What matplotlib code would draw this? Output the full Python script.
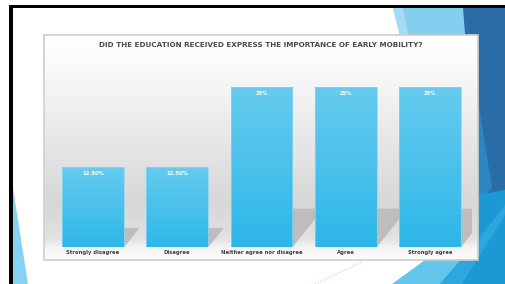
import numpy as np
import matplotlib
matplotlib.use("Agg")
import matplotlib.pyplot as plt
from matplotlib.patches import Polygon, Rectangle
from matplotlib.colors import to_rgb

# data
categories = ["Strongly disagree", "Disagree", "Neither agree nor disagree", "Agree", "Strongly agree"]
values = [12.5, 12.5, 25, 25, 25]
value_labels = ["12.50%", "12.50%", "25%", "25%", "25%"]
title = "DID THE EDUCATION RECEIVED EXPRESS THE IMPORTANCE OF EARLY MOBILITY?"

W, H = 505, 284
fig = plt.figure(figsize=(W / 100, H / 100), dpi=100)

# slide background, drawn in pixel coords (y down)
bg = fig.add_axes([0, 0, 1, 1])
bg.set_xlim(0, W)
bg.set_ylim(H, 0)
bg.axis("off")

def poly(pts, color, z=1):
    bg.add_patch(Polygon(pts, closed=True, facecolor=color, edgecolor="none", zorder=z))

# blue triangles of the slide theme
poly([(393, 8), (463, 8), (478, 70), (478, 200), (440, 200)], "#82cfef")
poly([(393, 8), (403, 8), (430, 150)], "#a6dcf3")
poly([(463, 8), (505, 8), (505, 195), (478, 200)], "#2a6ca5")
poly([(478, 100), (492, 188), (478, 205)], "#2d86c4")
poly([(430, 284), (505, 284), (505, 190), (478, 195)], "#1c99d5")
poly([(392, 284), (440, 284), (478, 240), (478, 225), (425, 260)], "#62c6ec")
poly([(440, 284), (462, 284), (505, 215), (505, 205), (478, 240)], "#2ea7df")
poly([(13, 188), (13, 284), (28, 284)], "#86d3f1")
bg.plot([315, 362], [284, 262], ls=":", color="#9fd3ec", lw=0.8, zorder=2)

# black frame of the screenshot
bg.add_patch(Rectangle((9, 5), W - 9, 3, facecolor="black", edgecolor="none", zorder=5))
bg.add_patch(Rectangle((9, 5), 4, H - 5, facecolor="black", edgecolor="none", zorder=5))

# chart box with grey gradient
bx0, bx1, by0, by1 = 44, 478, 35, 260
bg.add_patch(Rectangle((bx0, by0), bx1 - bx0, by1 - by0, facecolor="white",
                       edgecolor="#cdcdcd", lw=1.2, zorder=3))
stops_y = [35, 60, 120, 205, 240, 250, 260]
stops_c = ["#ffffff", "#fbfbfb", "#ececec", "#d7d7d7", "#e2e2e2", "#f6f6f6", "#fbfbfb"]
ys = np.linspace(by0, by1, 300)
rgb = np.array([to_rgb(c) for c in stops_c])
grad = np.stack([np.interp(ys, stops_y, rgb[:, k]) for k in range(3)], axis=-1)[:, None, :]
bg.imshow(grad, extent=(bx0 + 1, bx1 - 1, by1 - 1, by0 + 1), aspect="auto", zorder=3.5,
          interpolation="bilinear")

bg.text(261, 45, title, ha="center", va="center", fontsize=5.25, fontweight="bold",
        color="#4a4a4a", family="Liberation Sans Narrow", zorder=6)

# bar axes
ax = fig.add_axes([51 / W, 1 - 247 / H, 421 / W, 192 / H])
ax.patch.set_alpha(0)
ax.set_xlim(-0.5, 4.5)
ax.set_ylim(0, 30)
ax.axis("off")

x = np.arange(len(categories))
px_x = 421 / 5.0
px_y = 192 / 30.0

# floor shadows behind bars
for xi, v in zip(x, values):
    sh = 0.24 * v               # shadow height in data units
    dx = 0.8 * sh * px_y / px_x  # shift to the right
    pts = [(xi - 0.37, 0), (xi + 0.37, 0), (xi + 0.37 + dx, sh), (xi - 0.37 + dx, sh)]
    ax.add_patch(Polygon(pts, closed=True, facecolor="#bdbdbd", edgecolor="none", zorder=1))

bars = ax.bar(x, values, width=0.736, color="none", edgecolor="#8ad6f2", lw=0.5, zorder=3)
top_c, bot_c = np.array(to_rgb("#66cbef")), np.array(to_rgb("#2db7e8"))
t = np.linspace(0, 1, 200)[:, None]
bar_grad = (top_c * (1 - t) + bot_c * t)[:, None, :]
for b in bars:
    im = ax.imshow(bar_grad, extent=(b.get_x(), b.get_x() + b.get_width(), 0, b.get_height()),
                   aspect="auto", zorder=2, interpolation="bilinear")
    im.set_clip_path(b)

for xi, v, lab in zip(x, values, value_labels):
    ax.text(xi, v - 1.0, lab, ha="center", va="center", fontsize=3.8, fontweight="bold",
            color="white", family="Liberation Sans Narrow", zorder=4)

for xi, c in zip(x, categories):
    bg.text(51 + px_x * (xi + 0.5), 252.5, c, ha="center", va="center", fontsize=3.8,
            fontweight="bold", color="#404040", family="Liberation Sans Narrow", zorder=6)

fig.savefig("out.png", dpi=100)
